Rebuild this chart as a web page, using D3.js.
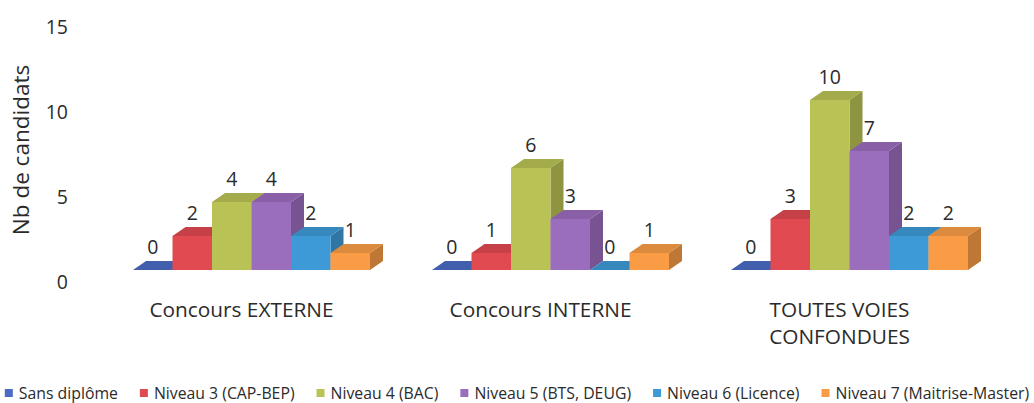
<!DOCTYPE html>
<html>
<head>
<meta charset="utf-8">
<script src="https://cdn.jsdelivr.net/npm/d3@7"></script>
<style>
  body { margin: 0; background: #fff; }
  svg { display: block; font-family: "Open Sans", "Noto Sans", sans-serif; }
</style>
</head>
<body>
<div id="chart"></div>
<script>
// categories and series
var categories = ["Concours EXTERNE", "Concours INTERNE", "TOUTES VOIES CONFONDUES"];
var seriesNames = ["Sans diplôme", "Niveau 3 (CAP-BEP)", "Niveau 4 (BAC)", "Niveau 5 (BTS, DEUG)", "Niveau 6 (Licence)", "Niveau 7 (Maitrise-Master)"];
var valuesExterne = [0, 2, 4, 4, 2, 1];
var valuesInterne = [0, 1, 6, 3, 0, 1];
var valuesToutes = [0, 3, 10, 7, 2, 2];
var seriesColors = ["#4a6cc4", "#e04a50", "#b9c254", "#9b6dbd", "#3d9ad6", "#f99c45"];
var yTicks = [0, 5, 10, 15];

var allValues = [valuesExterne, valuesInterne, valuesToutes];

var width = 1034, height = 403;
var depthX = 13, depthY = 9;   // 3d offset

var svg = d3.select("#chart").append("svg")
    .attr("width", width)
    .attr("height", height);

var x0 = d3.scaleBand()
    .domain(categories)
    .range([102, 999])
    .paddingInner(0.2074)
    .paddingOuter(0.1037);

var x1 = d3.scaleBand()
    .domain(d3.range(seriesNames.length))
    .range([0, x0.bandwidth()])
    .padding(0);

var y = d3.scaleLinear()
    .domain([0, 15])
    .range([270, 15]);

// y axis: labels only, sit a bit lower (left wall of the 3d box)
var yAxis = svg.append("g")
    .attr("transform", "translate(68," + 12 + ")")
    .call(d3.axisLeft(y).tickValues(yTicks).tickSize(0).tickPadding(0));
yAxis.select(".domain").remove();
yAxis.selectAll("text")
    .attr("font-family", "Open Sans")
    .attr("font-size", 19.5)
    .attr("fill", "#2b2b2b");

svg.append("text")
    .attr("transform", "translate(29,150) rotate(-90)")
    .attr("text-anchor", "middle")
    .attr("font-size", 22.5)
    .attr("fill", "#2b2b2b")
    .text("Nb de candidats");

// bars
categories.forEach(function(cat, ci) {
    var g = svg.append("g").attr("transform", "translate(" + x0(cat) + ",0)");
    var vals = allValues[ci];
    vals.forEach(function(v, si) {
        var bx = x1(si), bw = x1.bandwidth();
        var yt = y(v), yb = y(0);
        var col = d3.color(seriesColors[si]);
        var bar = g.append("g");
        // side
        bar.append("path")
            .attr("d", "M" + (bx + bw) + "," + yb + "L" + (bx + bw) + "," + yt +
                "L" + (bx + bw + depthX) + "," + (yt - depthY) +
                "L" + (bx + bw + depthX) + "," + (yb - depthY) + "Z")
            .attr("fill", col.darker(0.75));
        // top
        bar.append("path")
            .attr("d", "M" + bx + "," + yt + "L" + (bx + depthX) + "," + (yt - depthY) +
                "L" + (bx + bw + depthX) + "," + (yt - depthY) +
                "L" + (bx + bw) + "," + yt + "Z")
            .attr("fill", col.darker(0.35));
        // front
        bar.append("rect")
            .attr("x", bx)
            .attr("y", yt)
            .attr("width", bw)
            .attr("height", yb - yt)
            .attr("fill", col);
        // value label
        g.append("text")
            .attr("x", bx + bw / 2)
            .attr("y", yt - depthY - 7)
            .attr("text-anchor", "middle")
            .attr("font-size", 19.5)
            .attr("fill", "#2b2b2b")
            .text(v);
    });
});

// category labels, wrapped to the band width
var catLabels = svg.append("g");
categories.forEach(function(cat) {
    var t = catLabels.append("text")
        .attr("x", x0(cat) + x0.bandwidth() / 2 - 10)
        .attr("y", 317)
        .attr("text-anchor", "middle")
        .attr("font-size", 20.8)
        .attr("fill", "#2b2b2b");
    wrap(t, cat, x0.bandwidth());
});

function wrap(textSel, str, maxW) {
    var words = str.split(" "), line = [];
    var cx = textSel.attr("x");
    var tspan = textSel.append("tspan").attr("x", cx).attr("dy", 0);
    words.forEach(function(w) {
        line.push(w);
        tspan.text(line.join(" "));
        if (tspan.node().getComputedTextLength() > maxW && line.length > 1) {
            line.pop();
            tspan.text(line.join(" "));
            line = [w];
            tspan = textSel.append("tspan").attr("x", cx).attr("dy", "1.3em").text(w);
        }
    });
}

// legend
var legend = svg.append("g");
var lx = 0;
seriesNames.forEach(function(name, i) {
    var item = legend.append("g").attr("transform", "translate(" + lx + ",0)");
    item.append("rect")
        .attr("x", 0).attr("y", -4)
        .attr("width", 8).attr("height", 8)
        .attr("fill", seriesColors[i]);
    var t = item.append("text")
        .attr("x", 14)
        .attr("y", 5.5)
        .attr("font-size", 15.8)
        .attr("fill", "#2b2b2b")
        .text(name);
    lx += 14 + t.node().getComputedTextLength() + 22;
});
var legW = lx - 22;
legend.attr("transform", "translate(" + ((width - legW) / 2) + ",393)");
</script>
</body>
</html>
